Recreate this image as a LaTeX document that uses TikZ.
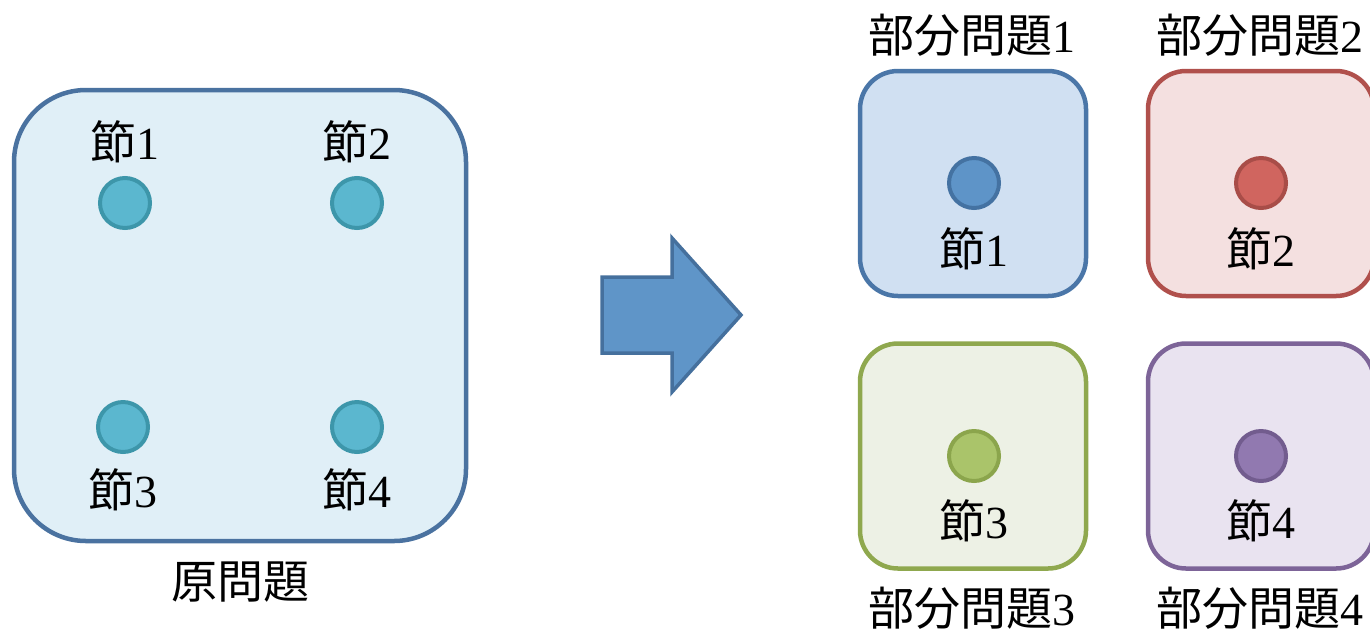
\documentclass[tikz,border=0pt]{standalone}
\usepackage{fontspec}
\setmainfont{Liberation Serif}
\newfontfamily\cjk{Noto Sans CJK JP}
\definecolor{bigS}{HTML}{4A72A0}
\definecolor{bigF}{HTML}{E0EFF7}
\definecolor{dotF}{HTML}{5BB7CF}
\definecolor{dotS}{HTML}{3D96AA}
\definecolor{arrF}{HTML}{5F95C8}
\definecolor{arrS}{HTML}{45709D}
\definecolor{bS}{HTML}{4A76A8}\definecolor{bF}{HTML}{D0E0F2}\definecolor{bcF}{HTML}{5E94C8}\definecolor{bcS}{HTML}{4472A2}
\definecolor{rS}{HTML}{B0504C}\definecolor{rF}{HTML}{F4E0E0}\definecolor{rcF}{HTML}{D0655F}\definecolor{rcS}{HTML}{A84D48}
\definecolor{gS}{HTML}{8FA84E}\definecolor{gF}{HTML}{EDF1E5}\definecolor{gcF}{HTML}{AAC46A}\definecolor{gcS}{HTML}{8BA54C}
\definecolor{pS}{HTML}{7D6498}\definecolor{pF}{HTML}{E9E3F0}\definecolor{pcF}{HTML}{9179B0}\definecolor{pcS}{HTML}{725C8E}
\begin{document}
\begin{tikzpicture}[x=1pt,y=-1pt,
  lbl/.style={font=\fontsize{46}{50}\selectfont, inner sep=0pt, anchor=center},
  bigbox/.style={draw=bigS, fill=bigF, line width=4.5pt, rounded corners=72pt, minimum width=452pt, minimum height=451pt, inner sep=0pt},
  subbox/.style={line width=4.5pt, rounded corners=38pt, minimum width=226pt, minimum height=225pt, inner sep=0pt},
  dot/.style={circle, line width=4pt, minimum size=50pt, inner sep=0pt}]
\useasboundingbox (0,0) rectangle (1370,633);
% left big box
\node[bigbox] (orig) at (240,315.5) {};
\node[dot, fill=dotF, draw=dotS] (n1) at (125,203) {};
\node[dot, fill=dotF, draw=dotS] (n2) at (357,203) {};
\node[dot, fill=dotF, draw=dotS] (n3) at (123,427) {};
\node[dot, fill=dotF, draw=dotS] (n4) at (357,427) {};
\node[lbl] (l1) at (125,142) {{\cjk 節}1};
\node[lbl] (l2) at (357,142) {{\cjk 節}2};
\node[lbl] (l3) at (123,490) {{\cjk 節}3};
\node[lbl] (l4) at (357,490) {{\cjk 節}4};
\node[lbl] (origt) at (240,582) {{\cjk 原問題}};
% arrow
\coordinate (a1) at (602,277);
\coordinate (a2) at (672,277);
\coordinate (a3) at (672,238);
\coordinate (a4) at (741,315);
\coordinate (a5) at (672,392);
\coordinate (a6) at (672,353);
\coordinate (a7) at (602,353);
\draw[fill=arrF, draw=arrS, line width=3.5pt, line join=miter] (a1) -- (a2) -- (a3) -- (a4) -- (a5) -- (a6) -- (a7) -- cycle;
% sub boxes
\node[subbox, draw=bS, fill=bF] (s1) at (973,183.5) {};
\node[subbox, draw=rS, fill=rF] (s2) at (1261,183.5) {};
\node[subbox, draw=gS, fill=gF] (s3) at (973,456) {};
\node[subbox, draw=pS, fill=pF] (s4) at (1261,456) {};
\node[dot, fill=bcF, draw=bcS] (m1) at (974,183) {};
\node[dot, fill=rcF, draw=rcS] (m2) at (1261,183) {};
\node[dot, fill=gcF, draw=gcS] (m3) at (974,456) {};
\node[dot, fill=pcF, draw=pcS] (m4) at (1261,456) {};
\node[lbl] (k1) at (974,249) {{\cjk 節}1};
\node[lbl] (k2) at (1261,249) {{\cjk 節}2};
\node[lbl] (k3) at (974,521) {{\cjk 節}3};
\node[lbl] (k4) at (1261,521) {{\cjk 節}4};
\node[lbl] (t1) at (972,35) {{\cjk 部分問題}1};
\node[lbl] (t2) at (1260,35) {{\cjk 部分問題}2};
\node[lbl] (t3) at (972,608) {{\cjk 部分問題}3};
\node[lbl] (t4) at (1260,608) {{\cjk 部分問題}4};
\end{tikzpicture}
\end{document}
